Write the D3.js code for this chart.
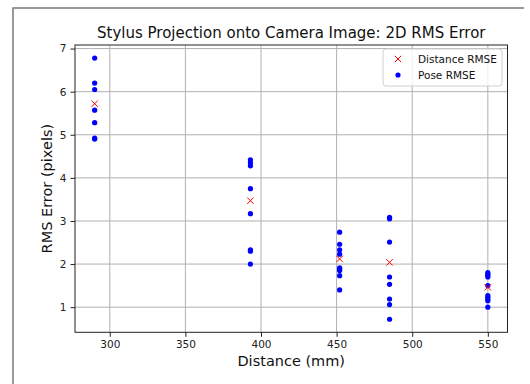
<!DOCTYPE html>
<html>
<head>
<meta charset="utf-8">
<script src="https://cdn.jsdelivr.net/npm/d3@7"></script>
<style>
  body { margin: 0; background: #fff; }
  svg { display: block; font-family: "DejaVu Sans", sans-serif; }
</style>
</head>
<body>
<div id="chart-container"></div>
<script>
// Data
const distances = [290, 393, 452, 485, 550];
const distanceRmse = [5.72, 3.47, 2.12, 2.04, 1.46];
const poseRmse = [
  [6.78, 6.20, 6.05, 5.57, 5.28, 4.92, 4.90],
  [4.42, 4.35, 4.28, 3.75, 3.17, 2.33, 2.30, 2.00],
  [2.74, 2.46, 2.33, 2.23, 1.91, 1.87, 1.85, 1.73, 1.40],
  [3.085, 3.05, 2.51, 1.70, 1.53, 1.19, 1.06, 0.72],
  [1.80, 1.77, 1.74, 1.70, 1.50, 1.27, 1.23, 1.19, 1.15, 1.00]
];
const xTicks = [300, 350, 400, 450, 500, 550];
const yTicks = [1, 2, 3, 4, 5, 6, 7];

const width = 530, height = 384;
const margin = {top: 45, right: 22.5, bottom: 51.7, left: 75};

const svg = d3.select("#chart-container").append("svg")
  .attr("width", width).attr("height", height);

// Outer frame (top & left edges visible)
svg.append("path")
  .attr("d", "M13,390 L13,8 L524,8")
  .attr("fill", "none").attr("stroke", "#7a7a7a").attr("stroke-width", 1.5);

// Scales with matplotlib-like 5% margins
const allVals = poseRmse.flat().concat(distanceRmse);
const yMin = d3.min(allVals), yMax = d3.max(allVals);
const xMin = d3.min(distances), xMax = d3.max(distances);
const xPad = (xMax - xMin) * 0.05, yPad = (yMax - yMin) * 0.05;

const x = d3.scaleLinear()
  .domain([xMin - xPad, xMax + xPad])
  .range([margin.left, width - margin.right]);
const y = d3.scaleLinear()
  .domain([yMin - yPad, yMax + yPad])
  .range([height - margin.bottom, margin.top]);

const chart = svg.append("g");

// Grid
chart.append("g").selectAll("line").data(xTicks).join("line")
  .attr("x1", d => x(d)).attr("x2", d => x(d))
  .attr("y1", margin.top).attr("y2", height - margin.bottom)
  .attr("stroke", "#b0b0b0").attr("stroke-width", 1);
chart.append("g").selectAll("line").data(yTicks).join("line")
  .attr("x1", margin.left).attr("x2", width - margin.right)
  .attr("y1", d => y(d)).attr("y2", d => y(d))
  .attr("stroke", "#b0b0b0").attr("stroke-width", 1);

// Axes
const xAxis = chart.append("g")
  .attr("transform", `translate(0,${height - margin.bottom})`)
  .call(d3.axisBottom(x).tickValues(xTicks).tickFormat(d3.format("d"))
    .tickSize(4.5).tickPadding(4).tickSizeOuter(0));
const yAxis = chart.append("g")
  .attr("transform", `translate(${margin.left},0)`)
  .call(d3.axisLeft(y).tickValues(yTicks).tickFormat(d3.format("d"))
    .tickSize(4.5).tickPadding(4).tickSizeOuter(0));
[xAxis, yAxis].forEach(a => {
  a.select(".domain").remove();
  a.selectAll("text").attr("font-size", 10.5).attr("fill", "#222")
    .attr("font-family", "DejaVu Sans");
  a.selectAll("line").attr("stroke", "#222");
});

// Spines
chart.append("rect")
  .attr("x", margin.left).attr("y", margin.top)
  .attr("width", width - margin.right - margin.left)
  .attr("height", height - margin.bottom - margin.top)
  .attr("fill", "none").attr("stroke", "#222").attr("stroke-width", 1);

// Pose RMSE dots
const pts = [];
poseRmse.forEach((vals, i) => vals.forEach(v => pts.push({d: distances[i], v: v})));
chart.append("g").selectAll("circle").data(pts).join("circle")
  .attr("cx", d => x(d.d)).attr("cy", d => y(d.v)).attr("r", 2.6)
  .attr("fill", "#0000ff");

// Distance RMSE crosses
const s = 3.2;
chart.append("g").selectAll("path").data(distances).join("path")
  .attr("d", (d, i) => {
    const cx = x(d), cy = y(distanceRmse[i]);
    return `M${cx - s},${cy - s}L${cx + s},${cy + s}M${cx - s},${cy + s}L${cx + s},${cy - s}`;
  })
  .attr("stroke", "#ff0000").attr("stroke-width", 1).attr("fill", "none");

// Title and labels
svg.append("text").text("Stylus Projection onto Camera Image: 2D RMS Error")
  .attr("x", (margin.left + width - margin.right) / 2).attr("y", 38)
  .attr("text-anchor", "middle").attr("font-size", 15).attr("fill", "#111");
svg.append("text").text("Distance (mm)")
  .attr("x", (margin.left + width - margin.right) / 2).attr("y", 366)
  .attr("text-anchor", "middle").attr("font-size", 14.5).attr("fill", "#111");
svg.append("text").text("RMS Error (pixels)")
  .attr("transform", `translate(52,${(margin.top + height - margin.bottom) / 2}) rotate(-90)`)
  .attr("text-anchor", "middle").attr("font-size", 14.5).attr("fill", "#111");

// Legend
const lg = svg.append("g");
lg.append("rect")
  .attr("x", 383).attr("y", 49).attr("width", 119).attr("height", 37).attr("rx", 3)
  .attr("fill", "#fff").attr("fill-opacity", 0.8).attr("stroke", "#d0d0d0");
lg.append("path")
  .attr("d", `M${398 - s},${59 - s}L${398 + s},${59 + s}M${398 - s},${59 + s}L${398 + s},${59 - s}`)
  .attr("stroke", "#ff0000").attr("stroke-width", 1);
lg.append("circle").attr("cx", 398).attr("cy", 75).attr("r", 2.6).attr("fill", "#0000ff");
lg.append("text").text("Distance RMSE").attr("x", 418).attr("y", 63)
  .attr("font-size", 10.5).attr("fill", "#111");
lg.append("text").text("Pose RMSE").attr("x", 418).attr("y", 79)
  .attr("font-size", 10.5).attr("fill", "#111");
</script>
</body>
</html>
